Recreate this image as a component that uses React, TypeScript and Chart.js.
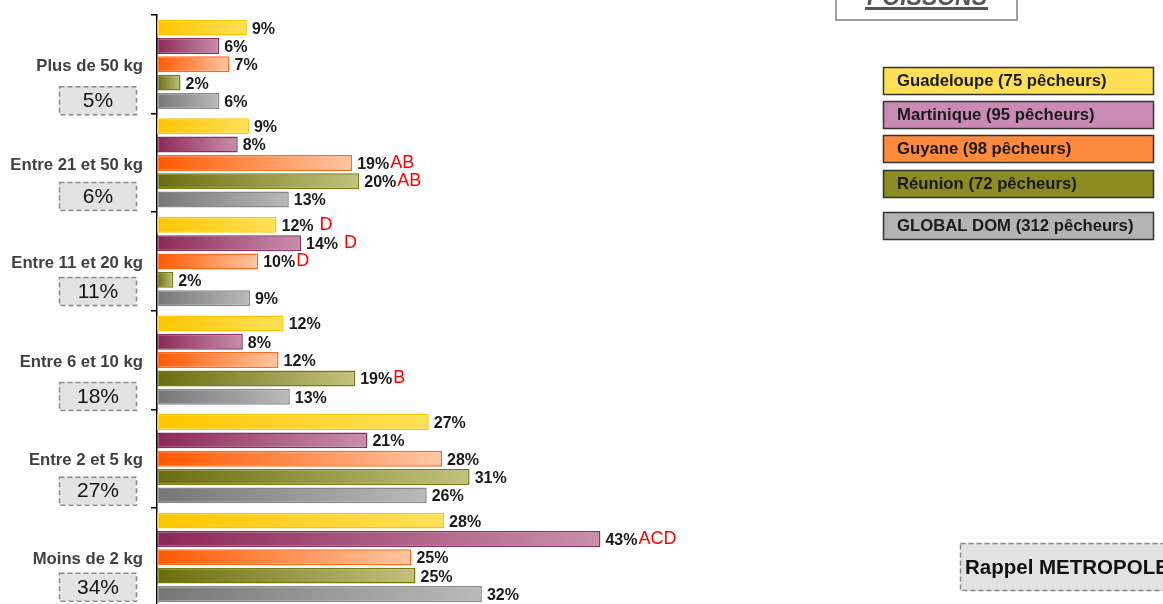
import React, { useEffect, useRef } from "react";
import { Chart, registerables } from "chart.js";

Chart.register(...registerables);

const categories = [
  "Plus de 50 kg",
  "Entre 21 et 50 kg",
  "Entre 11 et 20 kg",
  "Entre 6 et 10 kg",
  "Entre 2 et 5 kg",
  "Moins de 2 kg",
];
const metropole = ["5%", "6%", "11%", "18%", "27%", "34%"];
const seriesNames = [
  "Guadeloupe (75 pêcheurs)",
  "Martinique (95 pêcheurs)",
  "Guyane (98 pêcheurs)",
  "Réunion (72 pêcheurs)",
  "GLOBAL DOM (312 pêcheurs)",
];
const guadeloupe = [8.8, 9.0, 11.7, 12.4, 26.6, 28.1];
const martinique = [6.1, 7.9, 14.1, 8.4, 20.6, 43.4];
const guyane = [7.1, 19.1, 9.9, 11.9, 27.9, 24.9];
const reunion = [2.3, 19.8, 1.6, 19.4, 30.6, 25.3];
const globalDom = [6.1, 12.9, 9.1, 13.0, 26.4, 31.8];
const guadeloupeSig = ["", "", " D", "", "", ""];
const martiniqueSig = ["", "", " D", "", "", "ACD"];
const guyaneSig = ["", "AB", "D", "", "", ""];
const reunionSig = ["", "AB", "", "B", "", ""];
const globalSig = ["", "", "", "", "", ""];
const titleText = "POISSONS";
const rappelText = "Rappel METROPOLE";

const FONT = "'Liberation Sans', Arial, Helvetica, sans-serif";

const seriesValues = [guadeloupe, martinique, guyane, reunion, globalDom];
const seriesSigs = [guadeloupeSig, martiniqueSig, guyaneSig, reunionSig, globalSig];

const styles = [
  { left: "#ffc600", right: "#ffe15a", border: "#ffc400", legend: "#ffdf55" },
  { left: "#8c2758", right: "#c98fab", border: "#8a3060", legend: "#c98bb6" },
  { left: "#ff5800", right: "#ffc7a4", border: "#ff6a18", legend: "#ff8a3c" },
  { left: "#6c6c0e", right: "#c2c27e", border: "#7a7a10", legend: "#8c8c22" },
  { left: "#767676", right: "#bababa", border: "#888888", legend: "#b3b3b3" },
];

const boxOffsets = [22, 19, 15.5, 22, 18, 15.5];
const legendTops = [67, 101, 135, 170, 212];

function gradientFor(left: string, right: string) {
  return (c: any) => {
    const chart = c.chart;
    const area = chart.chartArea;
    if (!area || c.type !== "data") return left;
    const xs = chart.scales.x;
    const end = xs.getPixelForValue(Number(c.raw));
    const g = chart.ctx.createLinearGradient(area.left, 0, Math.max(end, area.left + 2), 0);
    g.addColorStop(0, left);
    g.addColorStop(1, right);
    return g;
  };
}

const overlayPlugin = {
  id: "overlay",
  afterDatasetsDraw(chart: any) {
    const ctx = chart.ctx as CanvasRenderingContext2D;
    const ys = chart.scales.y;
    ctx.save();

    // category labels and METROPOLE boxes
    categories.forEach((c, i) => {
      const cy = ys.getPixelForValue(i);
      ctx.font = `bold 16.7px ${FONT}`;
      ctx.fillStyle = "#404040";
      ctx.textAlign = "right";
      ctx.textBaseline = "middle";
      ctx.fillText(c, 143, cy + 2);

      const top = cy + boxOffsets[i];
      ctx.fillStyle = "#e3e3e3";
      ctx.fillRect(59, top, 77, 28);
      ctx.setLineDash([5, 3]);
      ctx.strokeStyle = "#8a8a8a";
      ctx.lineWidth = 1.5;
      ctx.strokeRect(59.5, top + 0.5, 77, 28);
      ctx.setLineDash([]);
      ctx.font = `21px ${FONT}`;
      ctx.fillStyle = "#141414";
      ctx.textAlign = "center";
      ctx.fillText(metropole[i], 98, top + 15);
    });

    // value labels
    chart.data.datasets.forEach((ds: any, di: number) => {
      const meta = chart.getDatasetMeta(di);
      meta.data.forEach((bar: any, i: number) => {
        const v = ds.data[i];
        const text = Math.round(v) + "%";
        const bx = bar.x + 5;
        const by = bar.y;
        ctx.font = `bold 16px ${FONT}`;
        ctx.fillStyle = "#1a1a1a";
        ctx.textAlign = "left";
        ctx.textBaseline = "middle";
        ctx.fillText(text, bx, by + 1.5);
        const w = ctx.measureText(text).width;
        const sig = seriesSigs[di][i];
        if (sig) {
          ctx.font = `18px ${FONT}`;
          ctx.fillStyle = "#ff0000";
          ctx.fillText(sig, bx + w + 1, by);
        }
      });
    });

    // legend
    seriesNames.forEach((name, i) => {
      const top = legendTops[i];
      ctx.fillStyle = styles[i].legend;
      ctx.fillRect(883, top, 270, 27);
      ctx.strokeStyle = "#333333";
      ctx.lineWidth = 1.5;
      ctx.strokeRect(883.5, top + 0.5, 270, 27);
      ctx.font = `bold 16.7px ${FONT}`;
      ctx.fillStyle = "#1a1a1a";
      ctx.textAlign = "left";
      ctx.textBaseline = "middle";
      ctx.fillText(name, 897, top + 14);
    });

    // title box (cut at top)
    ctx.fillStyle = "#ffffff";
    ctx.fillRect(836, -10, 181, 30);
    ctx.strokeStyle = "#a0a0a0";
    ctx.lineWidth = 2;
    ctx.strokeRect(836, -10, 181, 30);
    ctx.font = `italic bold 23px ${FONT}`;
    ctx.fillStyle = "#555555";
    ctx.textAlign = "center";
    ctx.textBaseline = "alphabetic";
    ctx.fillText(titleText, 927, 5);
    ctx.fillRect(865, 7, 123, 3);

    // rappel box
    ctx.fillStyle = "#e2e2e2";
    ctx.fillRect(960, 543, 220, 48);
    ctx.setLineDash([5, 3]);
    ctx.strokeStyle = "#8a8a8a";
    ctx.lineWidth = 1.5;
    ctx.strokeRect(960.5, 543.5, 220, 47);
    ctx.setLineDash([]);
    ctx.font = `bold 20.5px ${FONT}`;
    ctx.fillStyle = "#111111";
    ctx.textAlign = "left";
    ctx.textBaseline = "middle";
    ctx.fillText(rappelText, 965, 568);

    ctx.restore();
  },
};

export default function App() {
  const ref = useRef<HTMLCanvasElement | null>(null);

  useEffect(() => {
    if (!ref.current) return;
    const chart = new Chart(ref.current, {
      type: "bar",
      data: {
        labels: categories,
        datasets: seriesValues.map((vals, i) => ({
          label: seriesNames[i],
          data: vals,
          backgroundColor: gradientFor(styles[i].left, styles[i].right),
          borderColor: styles[i].border,
          borderWidth: 1.5,
          borderSkipped: false,
          categoryPercentage: 0.93,
          barPercentage: 0.87,
        })),
      },
      options: {
        indexAxis: "y",
        responsive: false,
        animation: false,
        devicePixelRatio: 1,
        layout: { padding: { left: 0, top: 15, right: 393, bottom: 13.4 } },
        plugins: { legend: { display: false }, tooltip: { enabled: false } },
        scales: {
          x: { display: false, min: 0, max: 60 },
          y: {
            afterFit: (s: any) => {
              s.width = 157;
            },
            ticks: { display: false },
            grid: {
              display: true,
              drawOnChartArea: false,
              drawTicks: true,
              tickLength: 6,
              offset: true,
              color: "#000000",
              lineWidth: 1.5,
            },
            border: { display: true, color: "#000000", width: 1.5 },
          },
        },
      },
      plugins: [overlayPlugin],
    });
    return () => chart.destroy();
  }, []);

  return (
    <div
      style={{
        position: "absolute",
        left: 0,
        top: 0,
        width: 1163,
        height: 604,
        overflow: "hidden",
        background: "#ffffff",
      }}
    >
      <canvas ref={ref} width={1163} height={620} style={{ display: "block" }} />
    </div>
  );
}
